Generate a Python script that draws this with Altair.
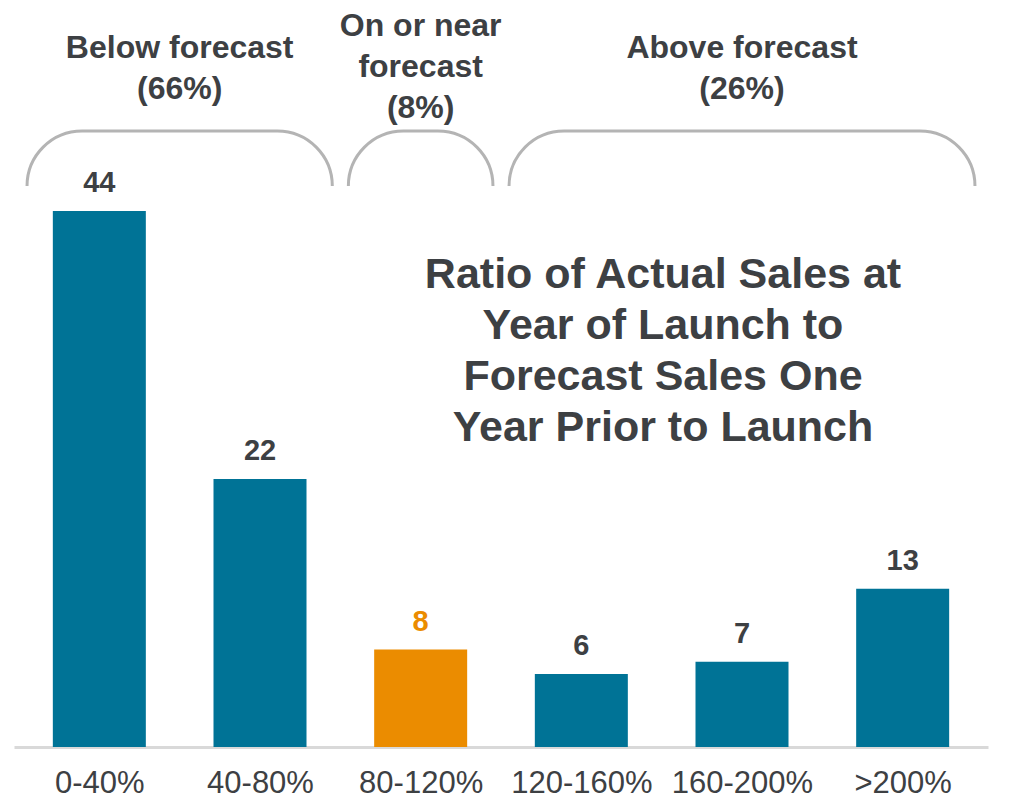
import altair as alt
import pandas as pd

categories = ["0-40%", "40-80%", "80-120%", "120-160%", "160-200%", ">200%"]
values = [44, 22, 8, 6, 7, 13]
highlight = ["other", "other", "on", "other", "other", "other"]

group_titles = ["Below forecast", "On or near\nforecast", "Above forecast"]
group_share = [66, 8, 26]
group_first = [0, 2, 3]
group_last = [1, 2, 5]

title_lines = "Ratio of Actual Sales at\nYear of Launch to\nForecast Sales One\nYear Prior to Launch"

BLUE = "#007396"
ORANGE = "#EB8C00"
TEXT = "#3d4043"
GRAY = "#b4b4b4"
FONT = "Liberation Sans"

bars_df = pd.DataFrame({
    "idx": list(range(len(categories))),
    "cat": categories,
    "value": values,
    "type": highlight,
})

pad = 0.05
labels = [f"{t}\n({s}%)" for t, s in zip(group_titles, group_share)]
groups_df = pd.DataFrame({
    "label": labels,
    "nlines": [l.count("\n") + 1 for l in labels],
    "start": [f - 0.5 + pad for f in group_first],
    "end": [l + 0.5 - pad for l in group_last],
    "center": [(f + l) / 2 for f, l in zip(group_first, group_last)],
})

label_expr = "[" + ",".join(f"'{c}'" for c in categories) + "][datum.value]"

xscale = alt.Scale(domain=[-0.5, 5.5], range=[6, 980], nice=False, zero=False)
yscale = alt.Scale(domain=[0, 60.67], nice=False)
color_scale = alt.Scale(domain=["other", "on"], range=[BLUE, ORANGE])

x_axis = alt.Axis(
    values=list(range(len(categories))),
    labelExpr=label_expr,
    title=None,
    grid=False,
    ticks=False,
    domain=True,
    domainColor="#d9d9d9",
    domainWidth=3,
    labelFontSize=31,
    labelFont=FONT,
    labelColor=TEXT,
    labelPadding=21,
    labelFlush=False,
    labelOverlap=False,
)

brackets = alt.Chart(groups_df).mark_rect(
    fillOpacity=0, stroke=GRAY, strokeWidth=3, cornerRadius=55
).encode(
    x=alt.X("start:Q", scale=xscale, axis=x_axis),
    x2="end:Q",
    y=alt.value(123),
    y2=alt.value(240),
)

cover = alt.Chart(groups_df).mark_rect(color="white").encode(
    x=alt.value(0), x2=alt.value(994), y=alt.value(178), y2=alt.value(262)
)

text_style = dict(
    font=FONT, fontSize=32, fontWeight="bold", color=TEXT,
    lineBreak="\n", lineHeight=41, baseline="middle", align="center"
)

group_text2 = alt.Chart(groups_df).transform_filter("datum.nlines == 2").mark_text(**text_style).encode(
    x=alt.X("center:Q", scale=xscale),
    y=alt.value(40),
    text="label:N",
)

group_text3 = alt.Chart(groups_df).transform_filter("datum.nlines == 3").mark_text(**text_style).encode(
    x=alt.X("center:Q", scale=xscale),
    y=alt.value(18),
    text="label:N",
)

bars = alt.Chart(bars_df).mark_bar(size=93).encode(
    x=alt.X("idx:Q", scale=xscale),
    y=alt.Y("value:Q", scale=yscale, axis=None),
    color=alt.Color("type:N", scale=color_scale, legend=None),
)

value_text = alt.Chart(bars_df).mark_text(
    font=FONT, fontSize=29, fontWeight="bold", baseline="middle", dy=-28
).encode(
    x=alt.X("idx:Q", scale=xscale),
    y=alt.Y("value:Q", scale=yscale, axis=None),
    text="value:Q",
    color=alt.Color("type:N", scale=alt.Scale(domain=["other", "on"], range=[TEXT, ORANGE]), legend=None),
)

title_text = alt.Chart(pd.DataFrame({"t": [title_lines]})).mark_text(
    font=FONT, fontSize=43, fontWeight="bold", color=TEXT,
    lineBreak="\n", lineHeight=51, baseline="middle", align="center"
).encode(
    x=alt.value(655), y=alt.value(267), text="t:N"
)

chart = alt.layer(brackets, cover, group_text2, group_text3, bars, value_text, title_text).resolve_scale(
    color="independent"
).properties(
    width=994, height=739, padding={"left": 0, "top": 0, "right": 0, "bottom": 52},
    autosize=alt.AutoSizeParams(type="none"), background="white",
).configure_view(strokeWidth=0, stroke="transparent")

chart.save("out.html", embed_options={"renderer": "svg", "actions": False})
